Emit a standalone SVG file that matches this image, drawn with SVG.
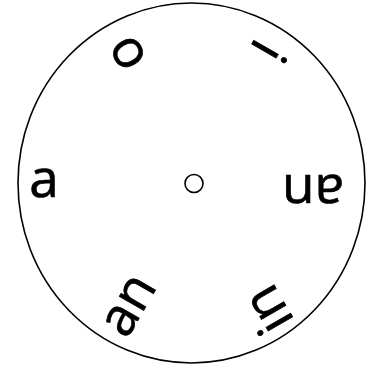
<svg xmlns="http://www.w3.org/2000/svg" width="371" height="365" viewBox="0 0 371 365">
<style>
.ring{fill:none;stroke:#000;stroke-width:1.6}
.lbl{font-family:"Open Sans","Noto Sans",sans-serif;font-size:53px;fill:#000;stroke:#000;stroke-width:0.7;text-anchor:middle}
</style>
<rect width="371" height="365" fill="#fff"/>
<g id="outer"><ellipse class="ring" cx="191.5" cy="183" rx="173.5" ry="180"/></g>
<g id="hub"><circle class="ring" cx="194" cy="183.5" r="9"/></g>
<g id="label-a" transform="translate(44,182.5)"><text class="lbl" y="14.2">a</text></g>
<g id="label-o" transform="translate(128,53) rotate(60)"><text class="lbl" y="14.2">o</text></g>
<g id="label-i" transform="translate(270,52) rotate(120)"><text class="lbl" y="20">i</text></g>
<g id="label-an-right" transform="translate(313,189) rotate(180)"><text class="lbl" y="14.2">an</text></g>
<g id="label-in" transform="translate(268,310) rotate(240)"><text class="lbl" y="18">in</text></g>
<g id="label-an-bottom" transform="translate(130,306) rotate(300)"><text class="lbl" y="14.2">an</text></g>
</svg>
